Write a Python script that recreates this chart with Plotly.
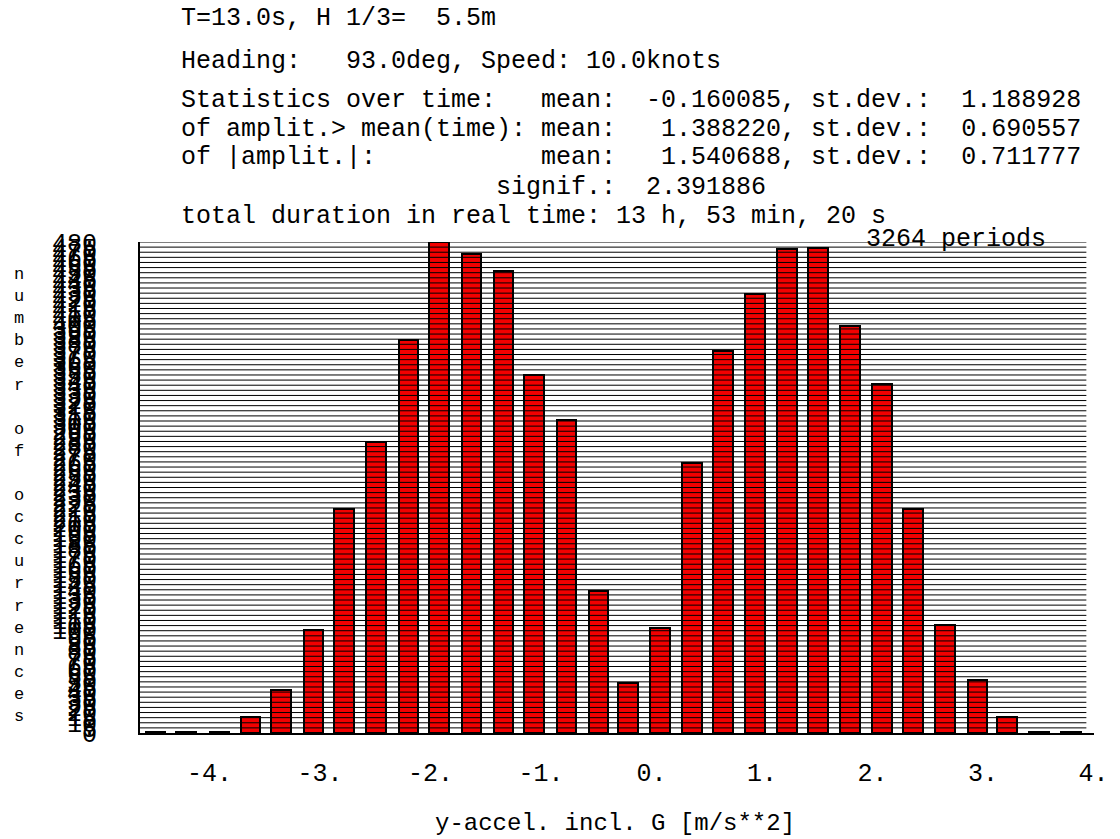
import plotly.graph_objects as go

# ---- data ----
bin_centers = [-4.49, -4.21, -3.91, -3.63, -3.35, -3.06, -2.78, -2.49, -2.20, -1.92,
               -1.63, -1.34, -1.06, -0.77, -0.48, -0.21, 0.08, 0.37, 0.65, 0.94,
               1.23, 1.51, 1.80, 2.09, 2.37, 2.66, 2.95, 3.22, 3.51, 3.80]
counts = [1, 1, 1, 16, 42, 101, 219, 284, 384, 480,
          468, 452, 350, 306, 139, 49, 103, 264, 373, 429,
          473, 474, 398, 341, 219, 106, 52, 16, 1, 1]

x_tick_vals = [-4, -3, -2, -1, 0, 1, 2, 3, 4]
x_tick_text = ["-4.", "-3.", "-2.", "-1.", "0.", "1.", "2.", "3.", "4."]
y_max = 480
y_step = 5
y_tick_vals = list(range(0, y_max + 1, y_step))

header_lines = [
    "T=13.0s, H 1/3=  5.5m",
    "Heading:   93.0deg, Speed: 10.0knots",
    "Statistics over time:   mean:  -0.160085, st.dev.:  1.188928",
    "of amplit.> mean(time): mean:   1.388220, st.dev.:  0.690557",
    "of |amplit.|:           mean:   1.540688, st.dev.:  0.711777",
    " " * 21 + "signif.:  2.391886",
    "total duration in real time: 13 h, 53 min, 20 s",
]
header_y_px = [18, 61, 100, 129, 158, 187, 216]
periods_text = "3264 periods"
x_title = "y-accel. incl. G [m/s**2]"
y_title = "number of occurrences"

# ---- layout geometry ----
W, H = 1120, 839
L, R, T, B = 140, 16, 242, 106
plot_w = W - L - R
plot_h = H - T - B
FONT = "Liberation Mono, DejaVu Sans Mono, monospace"
FS = 25


def px_to_paper_x(px):
    return (px - L) / plot_w


def px_to_paper_y(py):
    return (H - B - py) / plot_h


def nb(s):
    return s.replace(" ", "\u00a0")


fig = go.Figure()
fig.add_trace(go.Bar(
    x=bin_centers, y=counts, width=0.18,
    marker=dict(color="#f20000", line=dict(color="black", width=2)),
    showlegend=False,
))

# horizontal grid drawn above the bars, one line per y tick
for v in y_tick_vals[1:]:
    fig.add_shape(type="line", xref="paper", yref="y", x0=0, x1=0.992, y0=v, y1=v,
                  line=dict(color="black", width=1), layer="above")

annotations = []
for txt, ypx in zip(header_lines, header_y_px):
    annotations.append(dict(text=nb(txt), xref="paper", yref="paper",
                            x=px_to_paper_x(179), y=px_to_paper_y(ypx),
                            xanchor="left", yanchor="middle", showarrow=False,
                            font=dict(family=FONT, size=FS, color="black")))
annotations.append(dict(text=nb(periods_text), xref="paper", yref="paper",
                        x=px_to_paper_x(872), y=px_to_paper_y(239),
                        xanchor="left", yanchor="middle", showarrow=False,
                        font=dict(family=FONT, size=FS, color="black")))
annotations.append(dict(text=nb(x_title), xref="paper", yref="paper",
                        x=px_to_paper_x(620), y=px_to_paper_y(823),
                        xanchor="center", yanchor="middle", showarrow=False,
                        font=dict(family=FONT, size=24, color="black")))
annotations.append(dict(text="<br>".join(c if c != " " else "\u00a0" for c in y_title),
                        xref="paper", yref="paper",
                        x=px_to_paper_x(18), y=px_to_paper_y(495),
                        xanchor="center", yanchor="middle", showarrow=False,
                        font=dict(family=FONT, size=17, color="black")))

fig.update_layout(
    width=W, height=H,
    margin=dict(l=L, r=R, t=T, b=B, pad=0),
    paper_bgcolor="white", plot_bgcolor="white",
    annotations=annotations,
    bargap=0,
    xaxis=dict(range=[-4.63, 4.005], tickvals=x_tick_vals, ticktext=x_tick_text,
               showgrid=False, zeroline=False, showline=True, linecolor="black",
               linewidth=2, ticks="", ticklabelstandoff=16,
               tickfont=dict(family=FONT, size=FS, color="black")),
    yaxis=dict(range=[0, y_max], tickmode="array", tickvals=y_tick_vals,
               showgrid=False, zeroline=False, showline=True, linecolor="black",
               linewidth=2, ticks="", ticklabelstandoff=36,
               tickfont=dict(family=FONT, size=FS, color="black")),
)

fig.write_html("out.html")
